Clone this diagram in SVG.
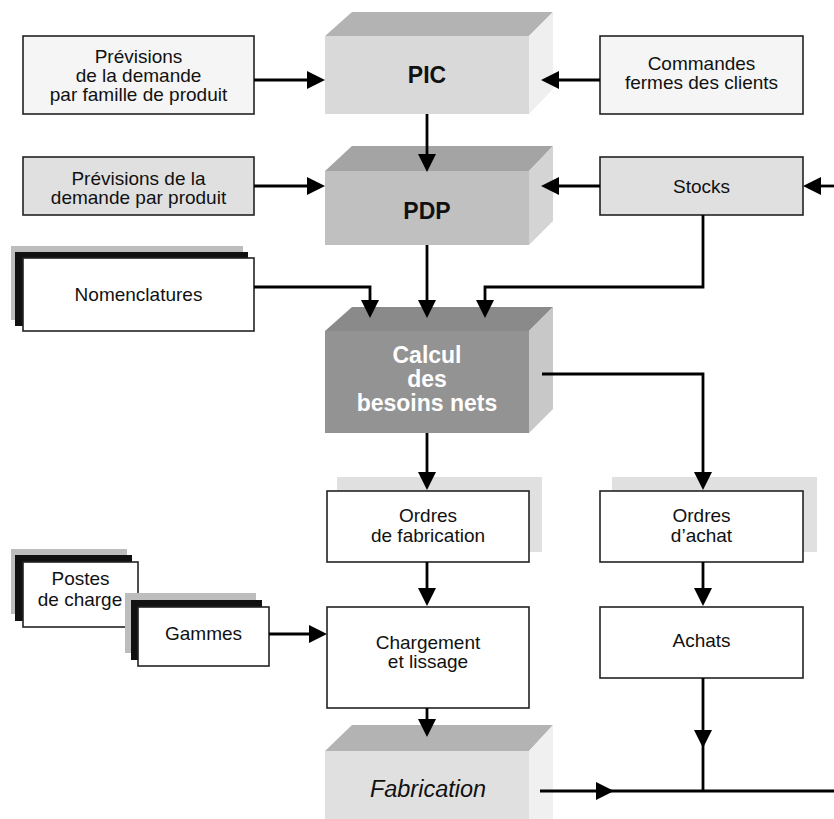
<svg xmlns="http://www.w3.org/2000/svg" width="834" height="819" viewBox="0 0 834 819">
<style>
text{font-family:"Liberation Sans",Arial,sans-serif;font-size:19px;fill:#111;text-anchor:middle}
.b{font-weight:bold;font-size:23px}
.w{fill:#fff}
.it{font-style:italic;font-size:23.5px}
.box{stroke:#222;stroke-width:1.6}
.gl{fill:#bdbdbd}
.bl{fill:#111}
.sh{fill:#e0e0e0}
.ln{fill:none;stroke:#000;stroke-width:2.8}
.ah{fill:#000}
</style>
<defs>
<path id="ad" d="M-9,-18 L9,-18 L0,0 Z"/>
<path id="ar" d="M-18,-9 L-18,9 L0,0 Z"/>
<path id="al" d="M18,-9 L18,9 L0,0 Z"/>
</defs>
<rect width="834" height="819" fill="#fff"/>

<g id="pic">
<rect x="325" y="36" width="204" height="78" fill="#d9d9d9"/>
<polygon points="325,36 352,12 553,12 529,36" fill="#b3b3b3"/>
<polygon points="529,36 553,12 553,89 529,114" fill="#efefef"/>
<text class="b" x="427" y="83">PIC</text>
</g>

<g id="pdp">
<rect x="325" y="171" width="204" height="74" fill="#c0c0c0"/>
<polygon points="325,171 352,146 553,146 529,171" fill="#a4a4a4"/>
<polygon points="529,171 553,146 553,221 529,245" fill="#d4d4d4"/>
<text class="b" x="427" y="219">PDP</text>
</g>

<g id="calcul">
<rect x="325" y="331" width="204" height="102" fill="#939393"/>
<polygon points="325,331 352,307 553,307 529,331" fill="#8a8a8a"/>
<polygon points="529,331 553,307 553,409 529,433" fill="#c8c8c8"/>
<text class="b w" x="427" y="363">Calcul</text>
<text class="b w" x="427" y="387">des</text>
<text class="b w" x="427" y="411">besoins nets</text>
</g>

<g id="fabrication">
<rect x="325" y="751" width="204" height="80" fill="#e0e0e0"/>
<polygon points="325,751 352,725 553,725 529,751" fill="#b3b3b3"/>
<polygon points="529,751 553,725 553,831 529,831" fill="#f0f0f0"/>
<text class="it" x="428" y="797">Fabrication</text>
</g>

<g id="prev-famille">
<rect class="box" x="23" y="36" width="231" height="78" fill="#f5f5f5"/>
<text x="138.5" y="62.5">Prévisions</text>
<text x="138.5" y="81.5">de la demande</text>
<text x="138.5" y="100.5">par famille de produit</text>
</g>

<g id="prev-produit">
<rect class="box" x="23" y="157" width="231" height="58" fill="#e0e0e0"/>
<text x="138.5" y="184.5">Prévisions de la</text>
<text x="138.5" y="203.5">demande par produit</text>
</g>

<g id="commandes">
<rect class="box" x="600" y="36" width="203" height="78" fill="#f5f5f5"/>
<text x="701.5" y="70">Commandes</text>
<text x="701.5" y="89">fermes des clients</text>
</g>

<g id="stocks">
<rect class="box" x="600" y="157" width="203" height="58" fill="#e0e0e0"/>
<text x="701.5" y="193">Stocks</text>
</g>

<g id="nomenclatures">
<rect class="gl" x="11" y="246" width="232" height="74"/>
<rect class="bl" x="15" y="252" width="233" height="74"/>
<rect class="box" x="23" y="258" width="231" height="73" fill="#fff"/>
<text x="138.5" y="301">Nomenclatures</text>
</g>

<g id="ordres-fab">
<rect class="sh" x="337" y="477" width="205" height="75"/>
<rect class="box" x="327" y="491" width="202" height="71" fill="#fff"/>
<text x="428" y="522">Ordres</text>
<text x="428" y="542">de fabrication</text>
</g>

<g id="ordres-achat">
<rect class="sh" x="612" y="477" width="205" height="75"/>
<rect class="box" x="600" y="491" width="203" height="71" fill="#fff"/>
<text x="701.5" y="522">Ordres</text>
<text x="701.5" y="542">d’achat</text>
</g>

<g id="postes">
<rect class="gl" x="11" y="549" width="116" height="65"/>
<rect class="bl" x="15" y="555" width="117" height="66"/>
<rect class="box" x="23" y="562" width="115" height="65" fill="#fff"/>
<text x="80.5" y="585">Postes</text>
<text x="80" y="606">de charge</text>
</g>

<g id="gammes">
<rect class="gl" x="125" y="593" width="131" height="60"/>
<rect class="bl" x="131" y="600" width="131" height="60"/>
<rect class="box" x="138" y="607" width="131" height="59" fill="#fff"/>
<text x="203.5" y="640">Gammes</text>
</g>

<g id="chargement">
<rect class="box" x="327" y="607" width="202" height="101" fill="#fff"/>
<text x="428" y="649">Chargement</text>
<text x="428" y="668">et lissage</text>
</g>

<g id="achats">
<rect class="box" x="600" y="607" width="203" height="71" fill="#fff"/>
<text x="701.5" y="647">Achats</text>
</g>

<g id="connectors">
<path class="ln" d="M254,80 H310"/>
<use href="#ar" x="325" y="80"/>
<path class="ln" d="M600,80 H556"/>
<use href="#al" x="541" y="80"/>
<path class="ln" d="M427,114 V156"/>
<use href="#ad" x="427" y="172"/>
<path class="ln" d="M254,186 H310"/>
<use href="#ar" x="325" y="186"/>
<path class="ln" d="M600,186 H556"/>
<use href="#al" x="541" y="186"/>
<path class="ln" d="M834,186 H818"/>
<use href="#al" x="803" y="186"/>
<path class="ln" d="M427,245 V302"/>
<use href="#ad" x="427" y="318"/>
<path class="ln" d="M254,287 H370 V302"/>
<use href="#ad" x="370" y="318"/>
<path class="ln" d="M703,215 V287 H485 V302"/>
<use href="#ad" x="485" y="318"/>
<path class="ln" d="M427,433 V474"/>
<use href="#ad" x="427" y="490"/>
<path class="ln" d="M542,374 H703 V474"/>
<use href="#ad" x="703" y="490"/>
<path class="ln" d="M427,562 V590"/>
<use href="#ad" x="427" y="606"/>
<path class="ln" d="M703,562 V590"/>
<use href="#ad" x="703" y="606"/>
<path class="ln" d="M269,634 H312"/>
<use href="#ar" x="327" y="634"/>
<path class="ln" d="M427,708 V721"/>
<use href="#ad" x="427" y="737"/>
<path class="ln" d="M703,678 V791"/>
<use href="#ad" x="703" y="748"/>
<path class="ln" d="M540,791 H834"/>
<use href="#ar" x="614" y="791"/>
</g>
</svg>
